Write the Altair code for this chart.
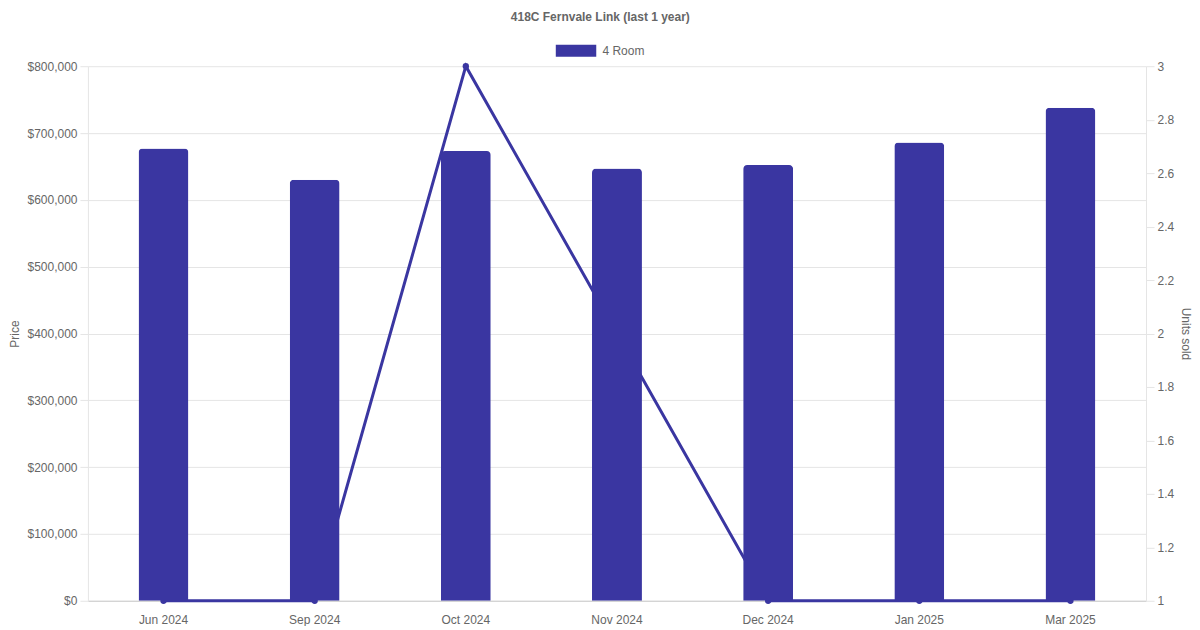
import altair as alt
import pandas as pd

months = ["Jun 2024", "Sep 2024", "Oct 2024", "Nov 2024", "Dec 2024", "Jan 2025", "Mar 2025"]
prices = [677000, 630000, 673000, 647000, 652000, 686000, 738000]
units = [1, 1, 3, 2, 1, 1, 1]
series_name = "4 Room"
price_ticks = [0, 100000, 200000, 300000, 400000, 500000, 600000, 700000, 800000]
unit_ticks = [1, 1.2, 1.4, 1.6, 1.8, 2, 2.2, 2.4, 2.6, 2.8, 3]

df = pd.DataFrame({
    "month": months,
    "price": prices,
    "units": units,
    "series": [series_name] * len(months),
})

C = "#3a36a1"
FONT = "Liberation Sans"
GRID = "#e5e5e5"
TXT = "#666666"

x = alt.X(
    "month:N", sort=months,
    scale=alt.Scale(paddingInner=0, paddingOuter=0),
    axis=alt.Axis(title=None, labelAngle=0, ticks=False, labelPadding=14,
                  domainColor="#cccccc", grid=False, labelColor=TXT,
                  labelFontSize=12, labelFont=FONT),
)

line = alt.Chart(df).mark_line(
    color=C, strokeWidth=3,
    point=alt.OverlayMarkDef(color=C, size=40, filled=True, opacity=1),
).encode(
    x=x,
    y=alt.Y("units:Q", scale=alt.Scale(domain=[1, 3], nice=False, zero=False),
            axis=alt.Axis(orient="right", title="Units sold", values=unit_ticks,
                          format=".1~f", grid=False, tickSize=8, tickColor=GRID,
                          domainColor=GRID, labelPadding=3, titlePadding=5,
                          labelColor=TXT, labelFontSize=12, labelFont=FONT,
                          titleColor=TXT, titleFontSize=12, titleFont=FONT,
                          titleFontWeight="normal")),
)

bars = alt.Chart(df).mark_bar(
    size=50, cornerRadiusTopLeft=4, cornerRadiusTopRight=4,
).encode(
    x=x,
    y=alt.Y("price:Q", scale=alt.Scale(domain=[0, 800000], nice=False),
            axis=alt.Axis(orient="left", title="Price", values=price_ticks,
                          format="$,.0f", grid=True, gridColor=GRID, tickSize=8,
                          tickColor=GRID, domainColor=GRID, labelPadding=3,
                          titlePadding=5, labelColor=TXT, labelFontSize=12,
                          labelFont=FONT, titleColor=TXT, titleFontSize=12,
                          titleFont=FONT, titleFontWeight="normal")),
    color=alt.Color("series:N", scale=alt.Scale(range=[C]),
                    legend=alt.Legend(title=None, orient="none", legendX=468,
                                      legendY=-36, symbolType="M-1,-0.3H1V0.3H-1Z",
                                      symbolSize=1640, labelFontSize=12,
                                      labelColor=TXT, labelFont=FONT,
                                      labelOffset=6, padding=0,
                                      symbolStrokeWidth=0)),
)

chart = alt.layer(line, bars).resolve_scale(y="independent").properties(
    width=1059, height=535,
    padding={"left": 0, "top": 3, "right": 0, "bottom": 0},
    title=alt.TitleParams("418C Fernvale Link (last 1 year)", fontSize=12,
                          fontWeight="bold", color=TXT, font=FONT,
                          anchor="middle", frame="bounds", offset=6),
).configure_view(stroke=None)

chart.save("out.html", embed_options={"renderer": "svg", "actions": False})
